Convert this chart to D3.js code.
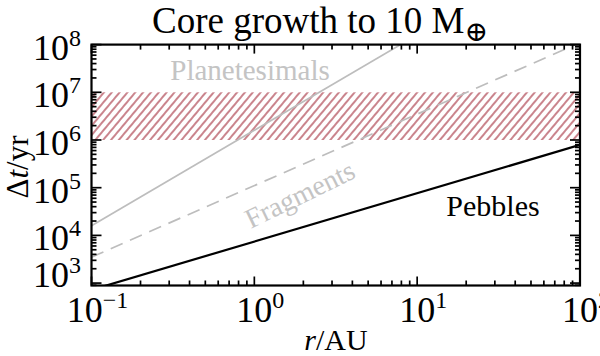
<!DOCTYPE html>
<html>
<head>
<meta charset="utf-8">
<script src="https://cdn.jsdelivr.net/npm/d3@7"></script>
<style>
  body { margin: 0; background: #fff; }
  text { font-family: "Liberation Serif", "DejaVu Serif", serif; }
</style>
</head>
<body>
<script>
// data (straight power laws in log-log, so two ends each)
var rPoints = [0.1, 100];
var pebbles = [720, 7.9e5];
var fragments = [3.5e3, 1.1e8];
var planetRPoints = [0.1, 10];
var planetesimals = [1.6e4, 1.6e8];
var band = [1e6, 1e7];            // hatched region in yr
var xTickExp = [-1, 0, 1, 2];
var yTickExp = [3, 4, 5, 6, 7, 8];

var w = 600, h = 356;
var pl = 91.5, pr = 580, pt = 44.6, pb = 285.5;

var svg = d3.select("body").append("svg")
  .attr("width", w)
  .attr("height", h);

var x = d3.scaleLog().domain([0.1, 100]).range([pl, pr]);
var y = d3.scaleLog().domain([890, 1e8]).range([pb, pt]);

// hatch pattern
var defs = svg.append("defs");
var pat = defs.append("pattern")
  .attr("id", "hatch")
  .attr("patternUnits", "userSpaceOnUse")
  .attr("width", 6)
  .attr("height", 10)
  .attr("patternTransform", "rotate(40)");
pat.append("line")
  .attr("x1", 1).attr("y1", -1)
  .attr("x2", 1).attr("y2", 11)
  .style("stroke", "#9e1f2e")
  .style("stroke-width", 1.1);

defs.append("clipPath").attr("id", "plotclip")
  .append("rect")
  .attr("x", pl).attr("y", pt)
  .attr("width", pr - pl).attr("height", pb - pt);

var plot = svg.append("g").attr("clip-path", "url(#plotclip)");

plot.append("rect")
  .attr("x", pl)
  .attr("y", y(band[1]))
  .attr("width", pr - pl)
  .attr("height", y(band[0]) - y(band[1]))
  .style("fill", "url(#hatch)");

var line = d3.line()
  .x(function(d){ return x(d[0]); })
  .y(function(d){ return y(d[1]); });

plot.append("path")
  .datum(d3.zip(planetRPoints, planetesimals))
  .attr("d", line)
  .style("fill", "none")
  .style("stroke", "#bdbdbd")
  .style("stroke-width", 1.7);

plot.append("path")
  .datum(d3.zip(rPoints, fragments))
  .attr("d", line)
  .style("fill", "none")
  .style("stroke", "#bdbdbd")
  .style("stroke-width", 1.7)
  .style("stroke-dasharray", "13,8");

plot.append("path")
  .datum(d3.zip(rPoints, pebbles))
  .attr("d", line)
  .style("fill", "none")
  .style("stroke", "#000")
  .style("stroke-width", 2.2);

// tick values: majors at each decade, minors 2..9 in between
var xMinor = [], yMinor = [];
xTickExp.slice(0, -1).forEach(function(e){
  for (var k = 2; k < 10; k++) xMinor.push(k * Math.pow(10, e));
});
d3.range(3, 8).forEach(function(e){
  for (var k = 2; k < 10; k++) yMinor.push(k * Math.pow(10, e));
});
yMinor.push(900);
var xMajor = xTickExp.map(function(e){ return Math.pow(10, e); });
var yMajor = yTickExp.map(function(e){ return Math.pow(10, e); });

// inward ticks on all four sides
var ticks = svg.append("g").attr("class", "ticks")
  .style("stroke", "#000")
  .style("stroke-width", 1.7);

function xTicks(vals, len){
  [[pb, -1], [pt, 1]].forEach(function(side){
    ticks.selectAll(null)
      .data(vals)
      .enter()
      .append("line")
      .attr("x1", function(d){ return x(d); })
      .attr("x2", function(d){ return x(d); })
      .attr("y1", side[0])
      .attr("y2", side[0] + side[1] * len);
  });
}
function yTicks(vals, len){
  [[pl, 1], [pr, -1]].forEach(function(side){
    ticks.selectAll(null)
      .data(vals)
      .enter()
      .append("line")
      .attr("y1", function(d){ return y(d); })
      .attr("y2", function(d){ return y(d); })
      .attr("x1", side[0])
      .attr("x2", side[0] + side[1] * len);
  });
}
xTicks(xMajor, 9);
xTicks(xMinor, 5);
yTicks(yMajor, 10);
yTicks(yMinor, 5);

// frame
svg.append("rect")
  .attr("x", pl).attr("y", pt)
  .attr("width", pr - pl).attr("height", pb - pt)
  .style("fill", "none")
  .style("stroke", "#000")
  .style("stroke-width", 2.2);

// tick labels with superscript exponents
function powerLabel(sel, e){
  sel.append("tspan").text("10");
  sel.append("tspan")
    .attr("dy", -14)
    .style("font-size", "24px")
    .text(e < 0 ? "\u2212" + (-e) : e);
}

svg.selectAll(".xlab")
  .data(xTickExp)
  .enter()
  .append("text")
  .attr("class", "xlab")
  .attr("x", function(e){ return x(Math.pow(10, e)) + 6; })
  .attr("y", 322)
  .attr("text-anchor", "middle")
  .style("font-size", "36px")
  .each(function(e){ powerLabel(d3.select(this), e); });

svg.selectAll(".ylab")
  .data(yTickExp)
  .enter()
  .append("text")
  .attr("class", "ylab")
  .attr("x", 81)
  .attr("y", function(e){ return Math.min(y(Math.pow(10, e)), 272) + 15; })
  .attr("text-anchor", "end")
  .style("font-size", "36px")
  .each(function(e){ powerLabel(d3.select(this), e); });

// title
var title = svg.append("text")
  .attr("x", 320)
  .attr("y", 33)
  .attr("text-anchor", "middle")
  .style("font-size", "37px")
  .text("Core growth to 10 M");
title.append("tspan")
  .attr("dy", 8)
  .style("font-size", "28px")
  .text("\u2295");

// axis titles
var xt = svg.append("text")
  .attr("x", 336)
  .attr("y", 350)
  .attr("text-anchor", "middle")
  .style("font-size", "30px");
xt.append("tspan").style("font-style", "italic").text("r");
xt.append("tspan").text("/AU");

var yt = svg.append("text")
  .attr("transform", "translate(28,167) rotate(-90)")
  .attr("text-anchor", "middle")
  .style("font-size", "31px");
yt.append("tspan").text("\u0394");
yt.append("tspan").style("font-style", "italic").text("t");
yt.append("tspan").text("/yr");

// curve labels
svg.append("text")
  .attr("x", 250).attr("y", 80)
  .attr("text-anchor", "middle")
  .style("font-size", "29px")
  .style("fill", "#c4c4c4")
  .text("Planetesimals");

svg.append("text")
  .attr("transform", "translate(304,203) rotate(-26)")
  .attr("text-anchor", "middle")
  .style("font-size", "28px")
  .style("fill", "#c4c4c4")
  .text("Fragments");

svg.append("text")
  .attr("x", 493).attr("y", 216)
  .attr("text-anchor", "middle")
  .style("font-size", "30px")
  .style("fill", "#000")
  .text("Pebbles");
</script>
</body>
</html>
